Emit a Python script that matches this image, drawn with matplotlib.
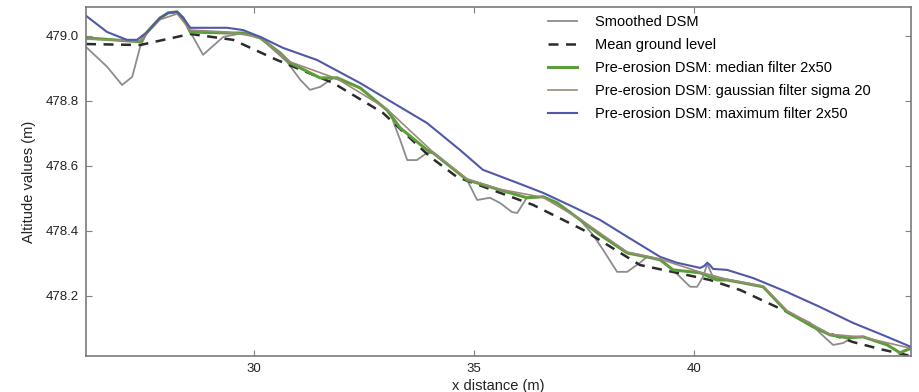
import numpy as np
import matplotlib
matplotlib.use("Agg")
import matplotlib.pyplot as plt

plt.rcParams['font.family'] = ['Liberation Sans', 'DejaVu Sans']

# mean ground level (dashed)
mean_x = [26.18, 27.41, 28.55, 29.52, 30.52, 31.80, 32.93, 34.00, 34.61, 36.34,
          37.48, 38.77, 39.61, 40.36, 41.05, 42.11, 42.86, 43.61, 44.30, 44.93]
mean_y = [478.975, 478.972, 479.006, 478.988, 478.926, 478.855, 478.763, 478.628,
          478.566, 478.480, 478.403, 478.295, 478.271, 478.249, 478.218, 478.151,
          478.095, 478.058, 478.034, 478.015]

# pre-erosion DSM, maximum filter (blue)
max_x = [26.18, 26.66, 27.11, 27.34, 27.57, 27.86, 28.05, 28.25, 28.39, 28.55,
         29.39, 29.75, 30.14, 30.66, 31.43, 32.41, 33.16, 33.93, 34.68, 35.20,
         35.98, 36.57, 37.25, 37.86, 38.48, 39.23, 39.61, 40.14, 40.23, 40.30,
         40.36, 40.43, 40.75, 41.34, 42.11, 42.86, 43.61, 44.39, 44.93]
max_y = [479.062, 479.012, 478.988, 478.988, 479.012, 479.055, 479.071, 479.074,
         479.055, 479.025, 479.025, 479.018, 478.997, 478.963, 478.926, 478.855,
         478.794, 478.732, 478.649, 478.588, 478.548, 478.517, 478.474, 478.434,
         478.382, 478.320, 478.302, 478.286, 478.292, 478.302, 478.295, 478.283,
         478.280, 478.255, 478.212, 478.166, 478.117, 478.074, 478.043]

# pre-erosion DSM, median filter (green)
med_x = [26.18, 27.41, 27.57, 27.86, 28.05, 28.25, 28.39, 28.55, 29.39, 29.75,
         30.14, 30.59, 30.82, 31.50, 31.89, 32.41, 33.02, 33.32, 33.93, 34.07,
         34.84, 35.59, 36.20, 36.57, 36.89, 37.41, 37.86, 38.48, 38.93, 39.23,
         39.52, 40.14, 40.52, 40.75, 41.11, 41.57, 42.11, 42.70, 43.09, 43.48,
         43.84, 44.39, 44.68, 44.95]
med_y = [478.994, 478.982, 479.012, 479.055, 479.071, 479.074, 479.055, 479.012,
         479.009, 479.009, 478.994, 478.948, 478.917, 478.871, 478.871, 478.840,
         478.772, 478.717, 478.649, 478.640, 478.557, 478.526, 478.502, 478.505,
         478.486, 478.434, 478.388, 478.332, 478.320, 478.311, 478.280, 478.271,
         478.249, 478.249, 478.240, 478.228, 478.151, 478.105, 478.080, 478.071,
         478.074, 478.049, 478.025, 478.040]

# pre-erosion DSM, gaussian filter (brownish, mostly hidden under green)
gau_x = [26.18, 27.41, 27.86, 28.25, 28.55, 29.39, 30.14, 30.82, 31.89, 33.02,
         34.07, 34.84, 35.59, 36.57, 37.41, 38.48, 39.23, 40.14, 40.75, 41.57,
         42.11, 43.09, 43.84, 44.95]
gau_y = [478.990, 478.985, 479.050, 479.068, 479.018, 479.012, 478.996, 478.920,
         478.868, 478.775, 478.642, 478.560, 478.528, 478.503, 478.436, 478.335,
         478.313, 478.273, 478.251, 478.230, 478.155, 478.082, 478.073, 478.038]

# smoothed DSM (grey)
dsm_x = [26.18, 26.66, 27.00, 27.23, 27.41, 27.57, 27.86, 28.05, 28.25, 28.39,
         28.55, 28.84, 29.30, 29.75, 30.14, 30.75, 31.05, 31.27, 31.50, 31.80,
         32.41, 33.09, 33.32, 33.48, 33.70, 33.93, 34.07, 34.84, 35.07, 35.36,
         35.59, 35.86, 35.98, 36.20, 36.57, 36.89, 37.41, 37.70, 37.93, 38.25,
         38.48, 38.77, 38.93, 39.23, 39.52, 39.91, 40.07, 40.20, 40.30, 40.43,
         40.75, 41.11, 41.57, 42.11, 42.64, 42.86, 43.16, 43.39, 43.61, 43.84,
         44.39, 44.68, 44.95]
dsm_y = [478.966, 478.905, 478.849, 478.874, 478.966, 479.012, 479.055, 479.071,
         479.074, 479.055, 479.012, 478.942, 478.997, 479.009, 478.994, 478.920,
         478.865, 478.834, 478.843, 478.871, 478.840, 478.763, 478.680, 478.618,
         478.618, 478.640, 478.640, 478.557, 478.495, 478.502, 478.486, 478.458,
         478.455, 478.502, 478.505, 478.486, 478.434, 478.388, 478.342, 478.274,
         478.274, 478.302, 478.320, 478.311, 478.280, 478.228, 478.228, 478.258,
         478.298, 478.258, 478.249, 478.240, 478.228, 478.151, 478.117, 478.086,
         478.049, 478.055, 478.074, 478.074, 478.049, 478.025, 478.040]

fig = plt.figure(figsize=(9.19, 3.92), dpi=100)
ax = fig.add_axes([86/919, 1-356/392, (911-86)/919, (356-7)/392])

ax.plot(dsm_x, dsm_y, color='#8c8c8c', lw=1.3, label='Smoothed DSM')
ax.plot(mean_x, mean_y, color='#2b2b2b', lw=1.8, ls=(0, (4, 3)), label='Mean ground level')
ax.plot(med_x, med_y, color='#5c9e3c', lw=2.2, label='Pre-erosion DSM: median filter 2x50')
ax.plot(gau_x, gau_y, color='#9a8a78', lw=1.2, label='Pre-erosion DSM: gaussian filter sigma 20')
ax.plot(max_x, max_y, color='#5058a8', lw=1.5, label='Pre-erosion DSM: maximum filter 2x50')

ax.set_xlim(26.18, 44.93)
ax.set_ylim(478.015, 479.089)
ax.set_xticks([30, 35, 40])
ax.set_yticks([478.2, 478.4, 478.6, 478.8, 479.0])
ax.set_yticklabels(['478.2', '478.4', '478.6', '478.8', '479.0'])
ax.tick_params(direction='in', top=True, right=True, length=4, width=0.8,
               color='#808080', labelsize=9.5, labelcolor='#222222', pad=5)
for s in ax.spines.values():
    s.set_color('#7a7a7a')
    s.set_linewidth(1.2)

ax.set_xlabel('x distance (m)', fontsize=10.5, color='#222222', labelpad=3)
ax.set_ylabel('Altitude values (m)', fontsize=10.5, color='#222222', labelpad=7)

ax.legend(loc='upper left', bbox_to_anchor=(548/919, 1-15/392), bbox_transform=fig.transFigure,
          frameon=False, fontsize=10.5, handlelength=2.0, handletextpad=1.2,
          labelspacing=0.62, borderaxespad=0, borderpad=0)

fig.savefig('out.png', dpi=100)
